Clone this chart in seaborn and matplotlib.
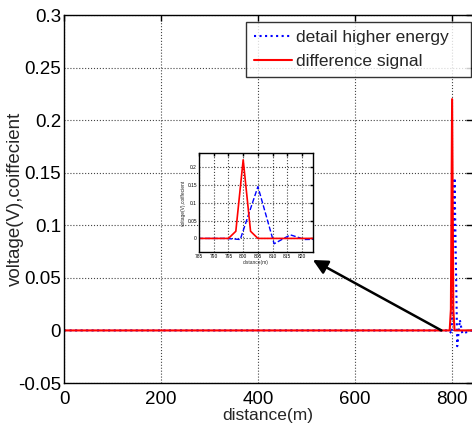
import pandas as pd
import matplotlib
matplotlib.use('Agg')
import matplotlib.pyplot as plt
import seaborn as sns

# signal samples (flat zero away from the fault)
diff_x = [0, 795, 797.5, 800, 802.5, 805, 841]
diff_y = [0, 0, 0.02, 0.22, 0.02, 0, 0]

detail_x = [0, 794, 799, 805, 810.5, 816, 821, 841]
detail_y = [0, 0, -0.003, 0.145, -0.015, 0.01, -0.003, 0]

main_xticks = [0, 200, 400, 600, 800]
main_yticks = [-0.05, 0, 0.05, 0.1, 0.15, 0.2, 0.25, 0.3]
inset_xticks = [785, 790, 795, 800, 805, 810, 815, 820]
inset_yticks = [0, 0.05, 0.1, 0.15, 0.2]

detail = pd.DataFrame({'distance': detail_x, 'value': detail_y})
diff = pd.DataFrame({'distance': diff_x, 'value': diff_y})

sns.set_style('white')
plt.rcParams['font.family'] = ['Liberation Sans', 'DejaVu Sans']

fig = plt.figure(figsize=(4.72, 4.29), dpi=100)
ax = fig.add_axes([64 / 472, 46 / 429, 1 - 64 / 472, 368 / 429])


def style_axes(a, fs, lw):
    a.grid(True, color='#444444', linestyle=':', linewidth=0.8)
    a.tick_params(direction='in', top=True, right=True, labelsize=fs,
                  length=4 if fs > 6 else 2, width=lw, colors='black')
    for s in a.spines.values():
        s.set_color('black')
        s.set_linewidth(lw)


sns.lineplot(data=detail, x='distance', y='value', ax=ax, color='blue',
             linestyle=':', linewidth=1.5, label='detail higher energy')
sns.lineplot(data=diff, x='distance', y='value', ax=ax, color='red',
             linewidth=1.5, label='difference signal')
ax.set_xlim(0, 841)
ax.set_ylim(-0.05, 0.3)
ax.set_xticks(main_xticks)
ax.set_yticks(main_yticks)
ax.set_yticklabels(['-0.05', '0', '0.05', '0.1', '0.15', '0.2', '0.25', '0.3'])
style_axes(ax, 13.5, 1.0)
ax.tick_params(axis='x', pad=6)
ax.tick_params(axis='y', pad=2)
ax.set_xlabel('distance(m)', fontsize=12.5, labelpad=0)
ax.set_ylabel('voltage(V),coiffecient', fontsize=13.5, labelpad=-4)
ax.spines['right'].set_visible(False)

leg = ax.legend(loc='upper left',
                bbox_to_anchor=(182 / 408, 1 - 7 / 368, 225 / 408, 0.0),
                mode='expand', fontsize=12.5, frameon=True, fancybox=False,
                handlelength=2.2, borderpad=0.45, labelspacing=0.5,
                handletextpad=0.25, borderaxespad=0)
leg.get_frame().set_edgecolor('black')
leg.get_frame().set_linewidth(1.0)

ax.annotate('', xy=(513, 0.067), xytext=(778, 0.0),
            arrowprops=dict(arrowstyle='-|>', color='black', lw=1.8,
                            mutation_scale=22, shrinkA=0, shrinkB=0))

# zoomed inset around the fault
ins = fig.add_axes([199 / 472, 177 / 429, 114 / 472, 99 / 429])
sns.lineplot(data=detail, x='distance', y='value', ax=ins, color='blue',
             linestyle='--', linewidth=1.0, legend=False)
sns.lineplot(data=diff, x='distance', y='value', ax=ins, color='red',
             linewidth=1.2, legend=False)
ins.set_xlim(785, 823.7)
ins.set_ylim(-0.038, 0.239)
ins.set_xticks(inset_xticks)
ins.set_yticks(inset_yticks)
ins.set_yticklabels(['0', '0.05', '0.1', '0.15', '0.2'])
ins.set_xlabel('distance(m)', fontsize=3.5, labelpad=0.5)
ins.set_ylabel('voltage(V),coiffecient', fontsize=3.5, labelpad=1)
style_axes(ins, 3.5, 1.0)
ins.tick_params(pad=1.5)
ins.set_facecolor('white')

fig.savefig('out.png', dpi=100)
